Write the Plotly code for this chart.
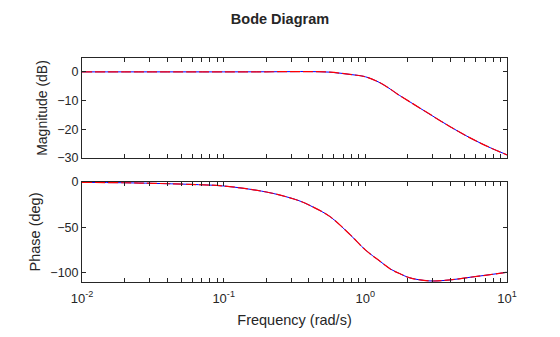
import plotly.graph_objects as go

# Frequency response samples (rad/s, dB, degrees)
mag_freq = [0.01, 0.02, 0.05, 0.1, 0.2, 0.3, 0.4, 0.56, 0.78, 1.0, 1.27, 1.5,
            1.67, 2.07, 2.86, 3.97, 5.49, 7.6, 10.0]
mag_db = [0.0, 0.0, 0.0, 0.0, 0.03, 0.08, 0.1, -0.1, -0.9, -1.7, -3.8, -6.0,
          -7.6, -10.5, -14.8, -19.1, -23.0, -26.4, -28.9]

phase_freq = [0.01, 0.0195, 0.0318, 0.0577, 0.1, 0.2, 0.294, 0.346, 0.407, 0.56,
              0.78, 1.0, 1.27, 1.5, 1.76, 2.07, 2.86, 3.97, 5.49, 7.6, 10.0]
phase_deg = [-0.4, -0.8, -1.5, -2.6, -4.4, -11.0, -17.4, -21.0, -25.9, -37.8,
             -57.9, -74.7, -87.2, -95.6, -101.0, -105.5, -108.8, -107.7, -104.8,
             -101.9, -99.3]

x_tickvals = [0.01, 0.1, 1, 10]
x_ticktext = ["10<sup>-2</sup>", "10<sup>-1</sup>", "10<sup>0</sup>", "10<sup>1</sup>"]
minor_vals = [m * d for d in (0.01, 0.1, 1) for m in range(2, 10)]

mag_ticks = [0, -10, -20, -30]
phase_ticks = [0, -50, -100]

AX = "#262626"
FONT = "Liberation Sans, Arial, Helvetica, sans-serif"
DASH = "10px,3px"

fig = go.Figure()

# system response (solid blue) and approximation (dashed red)
fig.add_trace(go.Scatter(x=mag_freq, y=mag_db, mode="lines", line_shape="spline",
                         line=dict(color="#0000ff", width=1), xaxis="x", yaxis="y"))
fig.add_trace(go.Scatter(x=mag_freq, y=mag_db, mode="lines", line_shape="spline",
                         line=dict(color="#ff0000", width=1.2, dash=DASH),
                         xaxis="x", yaxis="y"))
fig.add_trace(go.Scatter(x=phase_freq, y=phase_deg, mode="lines", line_shape="spline",
                         line=dict(color="#0000ff", width=1), xaxis="x2", yaxis="y2"))
fig.add_trace(go.Scatter(x=phase_freq, y=phase_deg, mode="lines", line_shape="spline",
                         line=dict(color="#ff0000", width=1.2, dash=DASH),
                         xaxis="x2", yaxis="y2"))

common_x = dict(
    type="log", range=[-2, 1], tickmode="array", tickvals=x_tickvals,
    ticktext=x_ticktext, ticks="inside", ticklen=4, tickcolor=AX,
    showline=True, linecolor=AX, linewidth=1, mirror="ticks",
    showgrid=False, zeroline=False, tickfont=dict(size=13),
    minor=dict(tickmode="array", tickvals=minor_vals, ticks="inside",
               ticklen=4, tickcolor=AX, showgrid=False),
)
common_y = dict(
    ticks="inside", ticklen=4, tickcolor=AX, showline=True, linecolor=AX,
    linewidth=1, mirror="ticks", showgrid=False, zeroline=False,
    tickfont=dict(size=12.5),
)

fig.update_layout(
    width=560, height=337,
    margin=dict(l=82, r=53, t=58, b=55),
    paper_bgcolor="white", plot_bgcolor="white",
    showlegend=False,
    font=dict(family=FONT, size=12.5, color=AX),
    title=dict(text="<b>Bode Diagram</b>", x=0.5, xanchor="center",
               y=1 - 19 / 337, yanchor="middle", yref="container",
               font=dict(size=14.5, color=AX)),
    xaxis=dict(common_x, domain=[0, 1], anchor="y", showticklabels=False,
               matches="x2"),
    yaxis=dict(common_y, domain=[0.5536, 1], range=[-30, 4.83],
               tickvals=mag_ticks,
               title=dict(text="Magnitude (dB)", font=dict(size=14), standoff=6)),
    xaxis2=dict(common_x, domain=[0, 1], anchor="y2", ticklabelstandoff=4,
                title=dict(text="Frequency (rad/s)", font=dict(size=14.5), standoff=10)),
    yaxis2=dict(common_y, domain=[0, 0.4464], range=[-110, 0],
                tickvals=phase_ticks,
                title=dict(text="Phase (deg)", font=dict(size=14.5), standoff=6)),
)

fig.write_html("out.html")
